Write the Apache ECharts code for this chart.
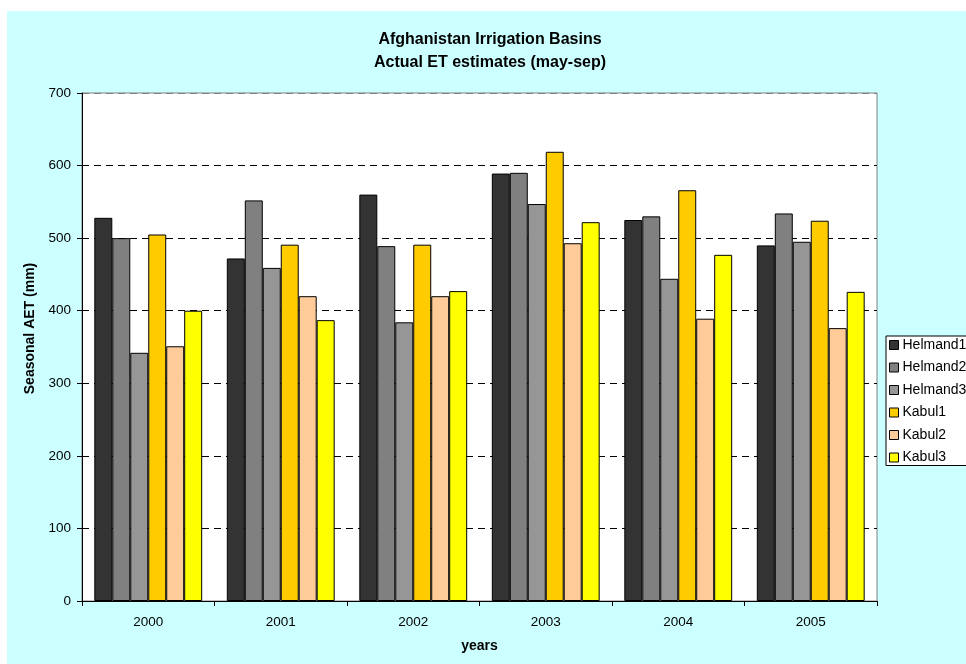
<!DOCTYPE html>
<html>
<head>
<meta charset="utf-8">
<script src="https://cdn.jsdelivr.net/npm/echarts@6/dist/echarts.min.js"></script>
<style>
html,body{margin:0;padding:0;background:#fff;}
#c{width:966px;height:664px;}
</style>
</head>
<body>
<div id="c"></div>
<script>
const categories = ['2000','2001','2002','2003','2004','2005'];
const seriesNames = ['Helmand1','Helmand2','Helmand3','Kabul1','Kabul2','Kabul3'];
const helmand1 = [528, 472, 560, 589, 525, 490];
const helmand2 = [500, 552, 489, 590, 530, 534];
const helmand3 = [342, 459, 384, 547, 444, 495];
const kabul1   = [505, 491, 491, 619, 566, 524];
const kabul2   = [351, 420, 420, 493, 389, 376];
const kabul3   = [400, 387, 427, 522, 477, 426];
const yTicks = [0,100,200,300,400,500,600,700];

const values = [helmand1, helmand2, helmand3, kabul1, kabul2, kabul3];
const colors = ['#333333','#808080','#969696','#FFCC00','#FFCC99','#FFFF00'];

const chart = echarts.init(document.getElementById('c'), null, {renderer:'canvas'});
const font = 'Arial, "Liberation Sans", sans-serif';
chart.setOption({
  animation:false,
  textStyle:{fontFamily:font},
  graphic:[{type:'rect', z:-10, silent:true, shape:{x:7,y:11,width:959,height:653}, style:{fill:'#CCFFFF'}}],
  title:{
    text:'Afghanistan Irrigation Basins\nActual ET estimates (may-sep)',
    left:485, textAlign:'center', top:23,
    textStyle:{fontFamily:font, fontSize:16, fontWeight:'bold', color:'#000', lineHeight:23}
  },
  legend:{
    orient:'vertical', left:886, top:336,
    backgroundColor:'#fff', borderColor:'#000', borderWidth:1,
    padding:[2,6,1,3], itemWidth:9, itemHeight:9, itemGap:8.5,
    icon:'rect',
    textStyle:{fontFamily:font, fontSize:14, color:'#000', padding:[0,0,0,-1]},
    data:seriesNames.map((n,i)=>({name:n, itemStyle:{color:colors[i], borderColor:'#000', borderWidth:1}}))
  },
  grid:{left:82, top:93, width:795, height:508, show:true, backgroundColor:'#fff', borderColor:'#808080', borderWidth:1},
  xAxis:{
    type:'category', data:categories,
    axisLine:{lineStyle:{color:'#000'}},
    axisTick:{show:true, length:5, lineStyle:{color:'#000'}},
    axisLabel:{fontFamily:font, fontSize:13.5, color:'#000', margin:14},
    name:'years', nameLocation:'middle', nameGap:38,
    nameTextStyle:{fontFamily:font, fontSize:14, fontWeight:'bold', color:'#000'}
  },
  yAxis:{
    type:'value', min:0, max:700, interval:100,
    axisLine:{show:true, lineStyle:{color:'#000'}},
    axisTick:{show:true, length:5, lineStyle:{color:'#000'}},
    axisLabel:{fontFamily:font, fontSize:13.5, color:'#000', margin:11},
    splitLine:{show:true, lineStyle:{color:['rgba(0,0,0,0)','#000','#000','#000','#000','#000','#000','#808080'], type:[7,5], width:1}},
    name:'Seasonal AET (mm)', nameLocation:'middle', nameGap:42, nameRotate:90,
    nameTextStyle:{fontFamily:font, fontSize:14, fontWeight:'bold', color:'#000', padding:[0,0,0,37]}
  },
  series: values.map((v,i)=>({
    name:seriesNames[i], type:'bar', data:v,
    barGap:'0%', barCategoryGap:'18.6%',
    itemStyle:{color:colors[i], borderColor:'#000', borderWidth:1}
  }))
});
</script>
</body>
</html>
